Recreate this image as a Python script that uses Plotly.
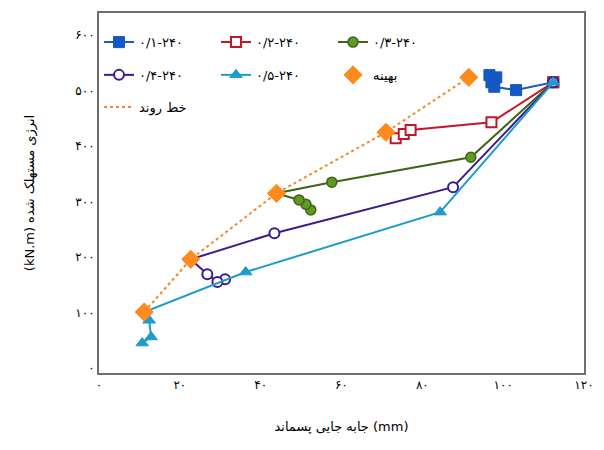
import plotly.graph_objects as go

# ---- data (x: residual displacement mm, y: dissipated energy kN.m) ----
s1_x = [96.6, 98.3, 97.1, 97.8, 103.2, 112.4]
s1_y = [528, 524, 515, 507, 501, 515]

s2_x = [73.4, 75.4, 77.1, 97.1, 112.4]
s2_y = [414, 422, 429, 443, 515]

s3_x = [52.4, 51.2, 49.5, 43.9, 57.6, 92.0, 112.4]
s3_y = [285, 295, 303, 315, 335, 380, 515]

s4_x = [31.2, 29.3, 26.8, 22.7, 43.4, 87.6, 112.4]
s4_y = [160, 155, 169, 196, 243, 326, 515]

s5_x = [10.7, 12.9, 12.4, 11.2, 36.3, 84.4, 112.4]
s5_y = [45, 56, 86, 101, 173, 281, 515]

opt_x = [11.2, 22.7, 43.9, 71.0, 91.5]
opt_y = [101, 196, 315, 425, 524]

names = ["۰/۱-۲۴۰", "۰/۲-۲۴۰", "۰/۳-۲۴۰", "۰/۴-۲۴۰", "۰/۵-۲۴۰", "بهینه", "خط روند"]

x_tickvals = [0, 20, 40, 60, 80, 100, 120]
x_ticktext = ["۰", "۲۰", "۴۰", "۶۰", "۸۰", "۱۰۰", "۱۲۰"]
y_tickvals = [0, 100, 200, 300, 400, 500, 600]
y_ticktext = ["۰", "۱۰۰", "۲۰۰", "۳۰۰", "۴۰۰", "۵۰۰", "۶۰۰"]

FONT = "DejaVu Sans"

fig = go.Figure()

# trend line (drawn first so markers sit above)
fig.add_trace(go.Scatter(x=opt_x, y=opt_y, mode="lines", name=names[6],
                         line=dict(color="#F08A2A", width=2, dash="dot"),
                         legend="legend3"))

fig.add_trace(go.Scatter(x=s1_x, y=s1_y, mode="lines+markers", name=names[0],
                         line=dict(color="#1F5BC0", width=2),
                         marker=dict(symbol="square", size=11, color="#1458C4",
                                     line=dict(color="#1458C4", width=1)),
                         legend="legend"))
fig.add_trace(go.Scatter(x=s2_x, y=s2_y, mode="lines+markers", name=names[1],
                         line=dict(color="#C0182A", width=2),
                         marker=dict(symbol="square", size=10, color="white",
                                     line=dict(color="#C0182A", width=2)),
                         legend="legend"))
fig.add_trace(go.Scatter(x=s3_x, y=s3_y, mode="lines+markers", name=names[2],
                         line=dict(color="#3F6418", width=2),
                         marker=dict(symbol="circle", size=10, color="#5E9A24",
                                     line=dict(color="#3F6418", width=1.5)),
                         legend="legend"))
fig.add_trace(go.Scatter(x=s4_x, y=s4_y, mode="lines+markers", name=names[3],
                         line=dict(color="#3C1C8C", width=2),
                         marker=dict(symbol="circle", size=10, color="white",
                                     line=dict(color="#3C1C8C", width=2)),
                         legend="legend2"))
fig.add_trace(go.Scatter(x=s5_x, y=s5_y, mode="lines+markers", name=names[4],
                         line=dict(color="#1E9CCB", width=2),
                         marker=dict(symbol="triangle-up", size=11, color="#1E9CCB",
                                     line=dict(color="#1E9CCB", width=1)),
                         legend="legend2"))
fig.add_trace(go.Scatter(x=opt_x, y=opt_y, mode="markers", name=names[5],
                         marker=dict(symbol="diamond", size=14, color="#FF8A1E",
                                     line=dict(color="#FF8A1E", width=1)),
                         legend="legend2"))

legend_common = dict(orientation="h", x=0.0, xanchor="left", yanchor="middle",
                     bgcolor="rgba(0,0,0,0)", borderwidth=0,
                     font=dict(family=FONT, size=13, color="black"),
                     entrywidthmode="pixels", entrywidth=72, traceorder="normal")

fig.update_layout(
    width=604, height=450,
    margin=dict(l=99, r=10, t=13, b=77),
    paper_bgcolor="white", plot_bgcolor="white",
    font=dict(family=FONT, size=12, color="black"),
    legend=dict(y=0.919, **legend_common),
    legend2=dict(y=0.828, **legend_common),
    legend3=dict(y=0.739, **legend_common),
    showlegend=True,
)

fig.update_xaxes(range=[0, 120], tickvals=x_tickvals, ticktext=x_ticktext,
                 showgrid=False, zeroline=False, showline=True, mirror=True,
                 linecolor="#6E6E6E", linewidth=2, ticks="",
                 tickfont=dict(family=FONT, size=12, color="black"),
                 title=dict(text="جابه جایی پسماند (mm)", standoff=30,
                            font=dict(family=FONT, size=13, color="black")))
fig.update_yaxes(range=[-9, 640], tickvals=y_tickvals, ticktext=y_ticktext,
                 showgrid=False, zeroline=False, showline=True, mirror=True,
                 linecolor="#6E6E6E", linewidth=2, ticks="",
                 tickfont=dict(family=FONT, size=12, color="black"),
                 title=dict(text="(kN.m) انرژی مستهلک شده", standoff=38,
                            font=dict(family=FONT, size=13, color="black")))

fig.write_html("out.html")
